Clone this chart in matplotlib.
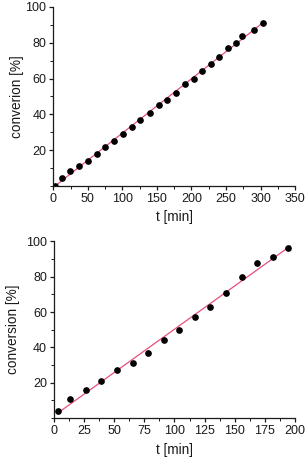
import numpy as np
import matplotlib.pyplot as plt
from matplotlib.ticker import MultipleLocator

# Top panel data
tTop = [2, 12, 24, 37, 50, 63, 75, 88, 101, 114, 126, 139.5, 152.5, 164.5, 177.5,
        190, 203, 215, 228, 240, 252.5, 265, 273, 290, 303]
convTop = [0, 4.2, 8.1, 11.3, 14, 18, 22, 25, 29, 33, 37, 41, 45, 48, 52,
           57, 60, 64, 68, 72, 77, 80, 84, 87, 91]

# Bottom panel data
tBot = [3.6, 13.3, 26.3, 39.3, 52.3, 65.3, 78.3, 91, 104, 117, 129.7, 142.7,
        155.7, 168.5, 181.5, 194.5]
convBot = [3.9, 10.9, 15.8, 20.9, 27, 31, 37, 44, 50, 57, 63, 71, 80, 88, 91, 96]

plt.rcParams['font.family'] = ['Liberation Sans', 'DejaVu Sans']
plt.rcParams['font.size'] = 9

lineColor = '#e8507a'
inkColor = '#1a1a1a'

def drawPanel(ax, t, conv, xMax, xMajor, xMinor, yLabel, lineRange, yPad):
    t = np.array(t)
    conv = np.array(conv)
    slope, icpt = np.polyfit(t, conv, 1)
    tFit = np.array(lineRange)
    ax.plot(tFit, slope * tFit + icpt, color=lineColor, lw=0.9, zorder=1)
    ax.plot(t, conv, 'o', color='black', ms=3.8, zorder=2)

    ax.set_xlim(0, xMax)
    ax.set_ylim(0, 100)
    ax.xaxis.set_major_locator(MultipleLocator(xMajor))
    ax.xaxis.set_minor_locator(MultipleLocator(xMinor))
    ax.set_yticks([20, 40, 60, 80, 100])
    ax.yaxis.set_minor_locator(MultipleLocator(10))
    ax.spines['top'].set_visible(False)
    ax.spines['right'].set_visible(False)
    for s in ['left', 'bottom']:
        ax.spines[s].set_linewidth(0.9)
        ax.spines[s].set_color(inkColor)
    ax.tick_params(which='major', length=3, width=0.9, labelsize=9, pad=2,
                   colors=inkColor)
    ax.tick_params(which='minor', length=2, width=0.7, colors=inkColor)
    ax.set_xlabel('t [min]', fontsize=9.8, labelpad=4, color=inkColor)
    ax.set_ylabel(yLabel, fontsize=9.8, labelpad=yPad, color=inkColor)

fig = plt.figure(figsize=(3.08, 4.57), dpi=100)
axTop = fig.add_axes([0.173, 0.593, 0.785, 0.392])
axBot = fig.add_axes([0.175, 0.085, 0.783, 0.387])

drawPanel(axTop, tTop, convTop, 350, 50, 25, 'converion [%]', [4, 306], 1)
drawPanel(axBot, tBot, convBot, 200, 25, 12.5, 'conversion [%]', [3, 196], 4)

fig.savefig('out.png', dpi=100)
